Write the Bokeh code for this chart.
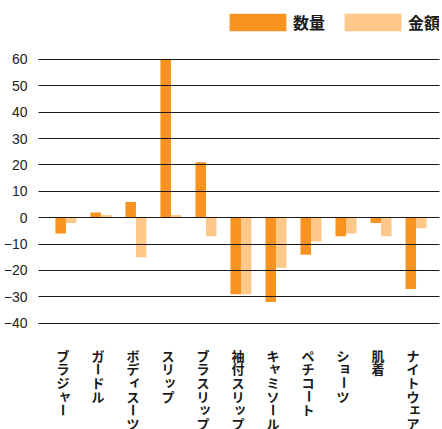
import math
from bokeh.plotting import figure
from bokeh.models import ColumnDataSource, Range1d, FixedTicker, Legend, LegendItem
from bokeh.transform import dodge
from bokeh.embed import file_html
from bokeh.resources import INLINE
from bokeh.core.properties import value

# ---- data ----
categories = ["ブラジャー", "ガードル", "ボディスーツ", "スリップ", "ブラスリップ",
              "袖付スリップ", "キャミソール", "ペチコート", "ショーツ", "肌着", "ナイトウェア"]
quantity = [-6, 2, 6, 60, 21, -29, -32, -14, -7, -2, -27]
amount = [-2, 1, -15, 1, -7, -29, -19, -9, -6, -7, -4]
y_ticks = [-40, -30, -20, -10, 0, 10, 20, 30, 40, 50, 60]
series_names = ["数量", "金額"]
colors = ["#F7931E", "#FDC88A"]

idx = list(range(len(categories)))
src = ColumnDataSource(dict(x=idx, q=quantity, a=amount))

W, H = 442, 429
p = figure(width=W, height=H,
           x_range=Range1d(-0.783, 10.67), y_range=Range1d(-80.31, 82.37),
           output_backend="svg", toolbar_location=None, x_axis_location=None,
           min_border_left=37, min_border_right=3, min_border_top=0, min_border_bottom=0)
p.outline_line_color = None
p.xgrid.visible = False

r1 = p.vbar(x=dodge("x", -0.15, range=p.x_range), top="q", bottom=0, width=0.3,
            source=src, fill_color=colors[0], line_color=None)
r2 = p.vbar(x=dodge("x", 0.15, range=p.x_range), top="a", bottom=0, width=0.3,
            source=src, fill_color=colors[1], line_color=None)

p.yaxis.ticker = FixedTicker(ticks=y_ticks)
p.yaxis.axis_line_color = None
p.yaxis.major_tick_line_color = None
p.yaxis.minor_tick_line_color = None
p.yaxis.major_label_standoff = 5
p.yaxis.major_label_text_font = "Liberation Sans"
p.yaxis.major_label_text_font_size = "14px"
p.yaxis.major_label_text_color = "#222222"

p.ygrid.ticker = FixedTicker(ticks=y_ticks)
p.ygrid.grid_line_color = "#1a1a1a"
p.ygrid.grid_line_width = 1
p.ygrid.level = "guide"

# vertical category labels, one character per glyph
small = set("ャュョィェッァォ")
lx, ly, lt, lxo, lyo, la = [], [], [], [], [], []
pitch = 13.7
for i, cat in zip(idx, categories):
    for k, ch in enumerate(cat):
        lx.append(i)
        ly.append(y_ticks[0])
        lt.append(ch)
        xo, yo = -3, 32 + k * pitch
        if ch in small:
            xo += 2
            yo -= 2
        lxo.append(xo)
        lyo.append(yo)
        la.append(math.pi / 2 if ch == "ー" else 0)
lsrc = ColumnDataSource(dict(x=lx, y=ly, t=lt, xo=lxo, yo=lyo, ang=la))
p.text(x="x", y="y", text="t", x_offset="xo", y_offset="yo", angle="ang", source=lsrc,
       text_font=value("Noto Sans CJK JP"), text_font_style="bold", text_font_size="13px",
       text_align="center", text_baseline="middle", text_color="#1a1a1a")

legend = Legend(items=[LegendItem(label=series_names[0], renderers=[r1]),
                       LegendItem(label=series_names[1], renderers=[r2])],
                orientation="horizontal", location=(184, H - 11.75 - 22.5),
                glyph_width=71, glyph_height=22, label_standoff=0, spacing=12,
                label_height=18, label_width=20,
                padding=0, margin=0, border_line_color=None, background_fill_alpha=0,
                label_text_font="Noto Sans CJK JP", label_text_font_size="16px",
                label_text_font_style="bold", label_text_color="#1a1a1a")
p.add_layout(legend)

open("out.html", "w").write(file_html(p, INLINE))
